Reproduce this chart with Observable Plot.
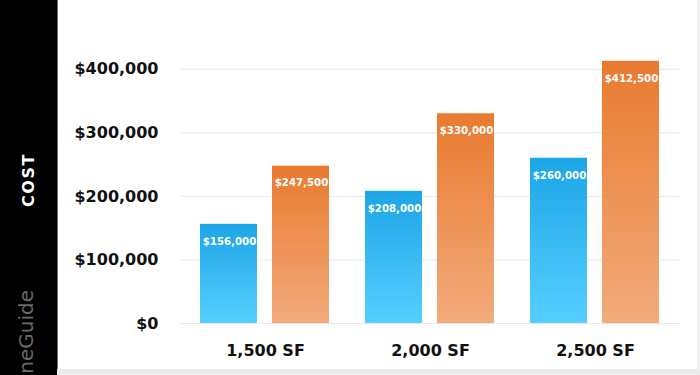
<!DOCTYPE html>
<html><head><meta charset="utf-8">
<script src="https://cdn.jsdelivr.net/npm/d3@7"></script>
<script src="https://cdn.jsdelivr.net/npm/@observablehq/plot@0.6"></script>
<style>
html,body{margin:0;padding:0;background:#fff;}
#wrap{position:relative;width:700px;height:375px;overflow:hidden;background:#fff;font-family:"DejaVu Sans",sans-serif;}
#band{position:absolute;left:0;top:0;width:57px;height:375px;background:#000;border-right:1px solid #6a6a6a;overflow:hidden;}
#cost{position:absolute;left:28px;top:180px;transform:translate(-50%,-50%) rotate(-90deg);color:#fff;font-weight:bold;font-size:16px;letter-spacing:1.5px;white-space:nowrap;}
#mark{position:absolute;left:26px;top:290px;transform-origin:0 0;transform:rotate(-90deg) translate(-100%,-50%);color:#6a6a6a;font-size:20px;white-space:nowrap;line-height:1;}
#bottom{position:absolute;left:57px;top:369px;width:643px;height:6px;background:#ececec;}
#right{position:absolute;left:697px;top:0;width:3px;height:375px;background:#efefef;}
#chart{position:absolute;left:0;top:0;}
</style>
</head><body>
<div id="wrap">
  <div id="band"><div id="cost">COST</div><div id="mark">neGuide</div></div>
  <div id="right"></div>
  <div id="bottom"></div>
  <div id="chart"></div>
</div>
<script>
const sizes = ["1,500 SF", "2,000 SF", "2,500 SF"];
const lowCost = [156000, 208000, 260000];
const highCost = [247500, 330000, 412500];
const yTicks = [0, 100000, 200000, 300000, 400000];

const lowRows = sizes.map((s, i) => ({size: s, cost: lowCost[i]}));
const highRows = sizes.map((s, i) => ({size: s, cost: highCost[i]}));
const fmt = d => "$" + d3.format(",")(d);

const svg = Plot.plot({
  width: 700, height: 369,
  marginLeft: 180, marginRight: 20, marginTop: 37, marginBottom: 46,
  style: {background: "transparent", fontFamily: "DejaVu Sans, sans-serif", fontSize: "16px", fontWeight: "bold", color: "#111", overflow: "visible"},
  x: {domain: sizes, padding: 0.03, label: null, tickSize: 0, tickPadding: 21},
  y: {domain: [0, 450000], ticks: yTicks, tickFormat: fmt, grid: true, label: null, tickSize: 0, tickPadding: 22},
  marks: [
    Plot.barY(lowRows, {x: "size", y: "cost", insetLeft: 15, insetRight: 88, fill: "url(#gradBlue)"}),
    Plot.barY(highRows, {x: "size", y: "cost", insetLeft: 87, insetRight: 16, fill: "url(#gradOrange)"}),
    Plot.text(lowRows, {x: "size", y: "cost", text: d => fmt(d.cost), dx: -36, dy: 17, fill: "white", fontWeight: "bold", fontSize: 10.2}),
    Plot.text(highRows, {x: "size", y: "cost", text: d => fmt(d.cost), dx: 36, dy: 17, fill: "white", fontWeight: "bold", fontSize: 10.2})
  ]
});

const defs = document.createElementNS("http://www.w3.org/2000/svg", "defs");
defs.innerHTML =
  '<linearGradient id="gradBlue" x1="0" y1="0" x2="0" y2="1"><stop offset="0" stop-color="#1ca5e6"/><stop offset="1" stop-color="#56cfff"/></linearGradient>' +
  '<linearGradient id="gradOrange" x1="0" y1="0" x2="0" y2="1"><stop offset="0" stop-color="#e97a2f"/><stop offset="1" stop-color="#f2ab7b"/></linearGradient>';
svg.prepend(defs);
document.getElementById("chart").appendChild(svg);
</script>
</body></html>
